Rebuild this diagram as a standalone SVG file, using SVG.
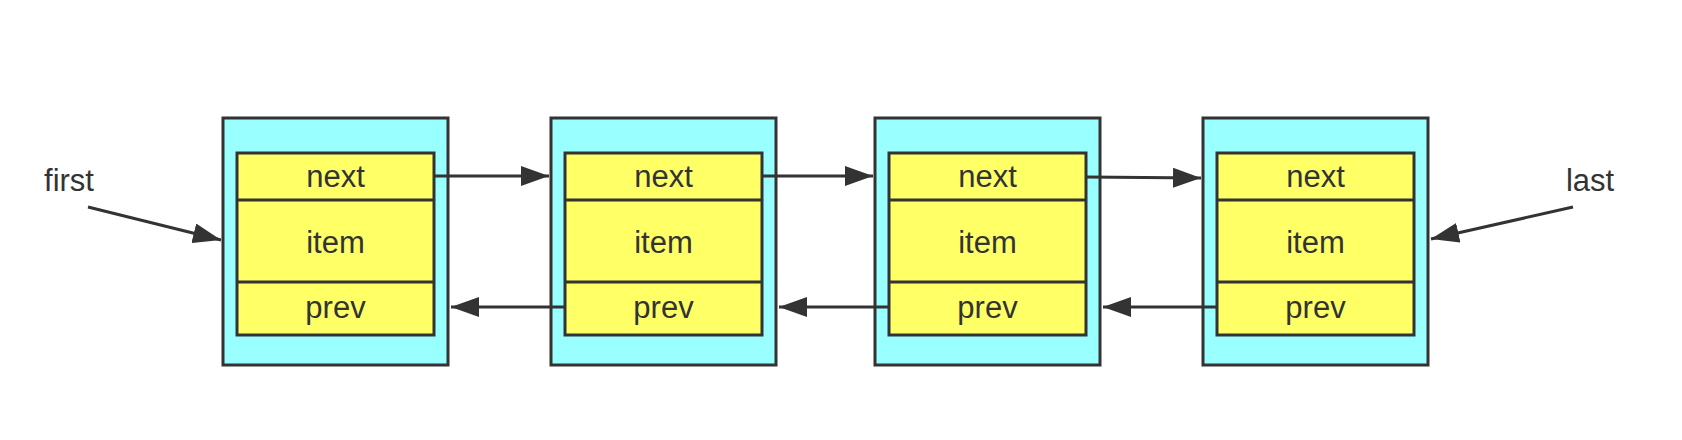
<svg xmlns="http://www.w3.org/2000/svg" width="1682" height="440" viewBox="0 0 1682 440">
<style>
.outer{fill:#99FFFF;stroke:#333;stroke-width:3}
.inner{fill:#FFFF66;stroke:#333;stroke-width:3}
.lbl{font-family:"Liberation Sans",Arial,sans-serif;font-size:31px;fill:#333;text-anchor:middle}
.conn{stroke:#333;stroke-width:3;fill:none;marker-end:url(#ah)}
</style>
<defs>
<marker id="ah" markerUnits="userSpaceOnUse" markerWidth="28" markerHeight="20" refX="28" refY="10" orient="auto">
<path d="M0,0 L28,10 L0,20 Z" fill="#333"/>
</marker>
</defs>
<rect width="1682" height="440" fill="#fff"/>
<g id="node1">
<rect class="outer" x="223" y="118" width="225" height="247"/>
<rect class="inner" x="237" y="153" width="197" height="182"/>
<line x1="237" y1="200" x2="434" y2="200" stroke="#333" stroke-width="3"/>
<line x1="237" y1="282" x2="434" y2="282" stroke="#333" stroke-width="3"/>
<text class="lbl" x="335.5" y="187">next</text>
<text class="lbl" x="335.5" y="253">item</text>
<text class="lbl" x="335.5" y="318">prev</text>
</g>
<g id="node2">
<rect class="outer" x="551" y="118" width="225" height="247"/>
<rect class="inner" x="565" y="153" width="197" height="182"/>
<line x1="565" y1="200" x2="762" y2="200" stroke="#333" stroke-width="3"/>
<line x1="565" y1="282" x2="762" y2="282" stroke="#333" stroke-width="3"/>
<text class="lbl" x="663.5" y="187">next</text>
<text class="lbl" x="663.5" y="253">item</text>
<text class="lbl" x="663.5" y="318">prev</text>
</g>
<g id="node3">
<rect class="outer" x="875" y="118" width="225" height="247"/>
<rect class="inner" x="889" y="153" width="197" height="182"/>
<line x1="889" y1="200" x2="1086" y2="200" stroke="#333" stroke-width="3"/>
<line x1="889" y1="282" x2="1086" y2="282" stroke="#333" stroke-width="3"/>
<text class="lbl" x="987.5" y="187">next</text>
<text class="lbl" x="987.5" y="253">item</text>
<text class="lbl" x="987.5" y="318">prev</text>
</g>
<g id="node4">
<rect class="outer" x="1203" y="118" width="225" height="247"/>
<rect class="inner" x="1217" y="153" width="197" height="182"/>
<line x1="1217" y1="200" x2="1414" y2="200" stroke="#333" stroke-width="3"/>
<line x1="1217" y1="282" x2="1414" y2="282" stroke="#333" stroke-width="3"/>
<text class="lbl" x="1315.5" y="187">next</text>
<text class="lbl" x="1315.5" y="253">item</text>
<text class="lbl" x="1315.5" y="318">prev</text>
</g>
<g id="label-first"><text class="lbl" x="69" y="191">first</text></g>
<g id="label-last"><text class="lbl" x="1590" y="191">last</text></g>
<g id="connectors">
<line class="conn" x1="434" y1="176" x2="549" y2="176"/>
<line class="conn" x1="762" y1="176" x2="873" y2="176"/>
<line class="conn" x1="1086" y1="177" x2="1201" y2="178"/>
<line class="conn" x1="565" y1="307" x2="451" y2="307"/>
<line class="conn" x1="889" y1="307" x2="779" y2="307"/>
<line class="conn" x1="1217" y1="307" x2="1103" y2="307"/>
<line class="conn" x1="88" y1="207" x2="221" y2="240"/>
<line class="conn" x1="1573" y1="207" x2="1431" y2="239"/>
</g>
</svg>
